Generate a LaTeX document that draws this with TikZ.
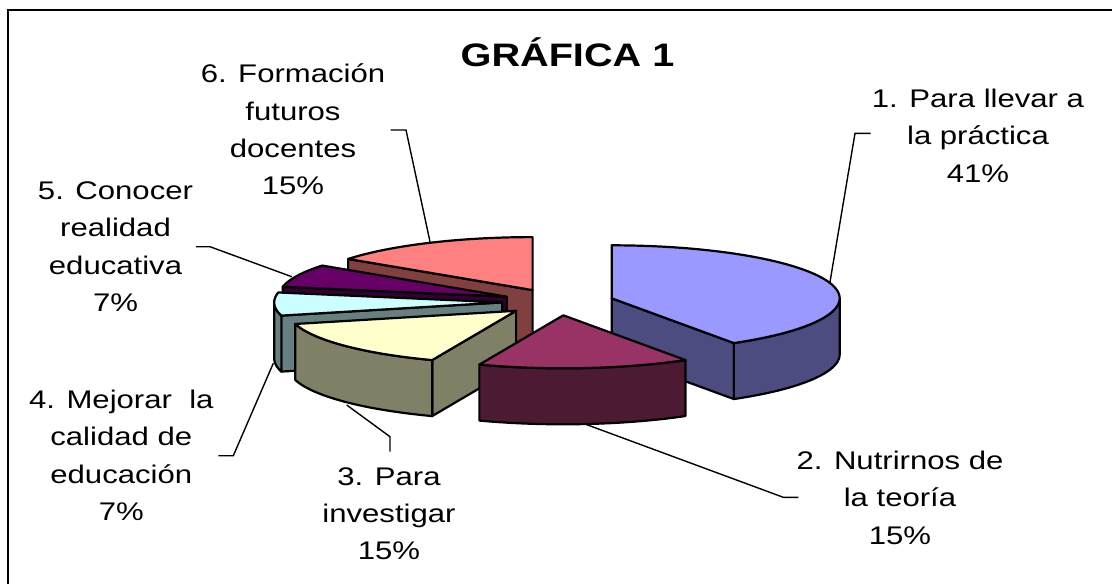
\documentclass[tikz,border=0pt]{standalone}
\usepackage{fontspec}
\newfontfamily\labf[FakeStretch=1.22]{Liberation Sans}
\definecolor{sAt}{HTML}{9999FF}\definecolor{sAs}{HTML}{4C4C80}
\definecolor{sBt}{HTML}{993366}\definecolor{sBs}{HTML}{4C1A33}
\definecolor{sCt}{HTML}{FFFFCC}\definecolor{sCs}{HTML}{808066}
\definecolor{sDt}{HTML}{CCFFFF}\definecolor{sDs}{HTML}{668080}
\definecolor{sEt}{HTML}{660066}\definecolor{sEs}{HTML}{330033}
\definecolor{sFt}{HTML}{FF8080}\definecolor{sFs}{HTML}{804040}
\def\RA{228}\def\RB{53}\def\RH{56}
\newcommand\pieTop[5]{%
  \filldraw[edge,fill=#5] (#1,#2) -- plot[domain=#3:#4,samples=60] ({#1+\RA*sin(\x)},{#2-\RB*cos(\x)}) -- cycle;}
\newcommand\pieSide[5]{%
  \filldraw[edge,fill=#5] plot[domain=#3:#4,samples=40] ({#1+\RA*sin(\x)},{#2-\RB*cos(\x)})
    -- plot[domain=#4:#3,samples=40] ({#1+\RA*sin(\x)},{#2-\RB*cos(\x)+\RH}) -- cycle;}
\newcommand\pieFace[4]{%
  \filldraw[edge,fill=#4] (#1,#2) -- ({#1+\RA*sin(#3)},{#2-\RB*cos(#3)}) -- ++(0,\RH) -- (#1,#2+\RH) -- cycle;}
\begin{document}
\begin{tikzpicture}[x=1pt,y=-1pt,
  edge/.style={draw=black,line width=2.2pt,line join=round},
  leader/.style={draw=black,line width=1.4pt},
  lab/.style={font=\labf\fontsize{25.5}{37.4}\selectfont,align=center,anchor=base,inner sep=0pt}]
\useasboundingbox (0,0) rectangle (1112,584);
\fill[white] (0,0) rectangle (1112,584);
\draw[line width=2.5pt] (8,584) -- (8,10) -- (1112,10);

% title
\node[anchor=base,inner sep=0pt,font=\labf\bfseries\fontsize{32.5}{38}\selectfont] (title) at (567.5,66) {GRÁFICA 1};

% labels (base anchor = baseline of the last line)
\node[lab] (lA) at (978,182.1) {1. Para llevar a\\la práctica\\41\%};
\node[lab] (lB) at (900,544.1) {2. Nutrirnos de\\la teoría\\15\%};
\node[lab] (lC) at (389,559.8) {3. Para\\investigar\\15\%};
\node[lab] (lD) at (121.3,520.5) {4. Mejorar\ \ la\\calidad de\\educación\\7\%};
\node[lab] (lE) at (115.5,311.5) {5. Conocer\\realidad\\educativa\\7\%};
\node[lab] (lF) at (293,194.9) {6. Formación\\futuros\\docentes\\15\%};

% leader lines
\coordinate (a1) at (870.7,133.3); \coordinate (a2) at (855,133.3); \coordinate (a3) at (830,282);
\coordinate (b1) at (798.3,497.3); \coordinate (b2) at (783.3,497.3); \coordinate (b3) at (585,424);
\coordinate (c1) at (390,451.7); \coordinate (c2) at (390,436.7); \coordinate (c3) at (346.7,405);
\coordinate (d1) at (218.3,455.7); \coordinate (d2) at (233.3,455.7); \coordinate (d3) at (273.3,363.3);
\coordinate (e1) at (196,246.7); \coordinate (e2) at (210,246.7); \coordinate (e3) at (291.7,276.7);
\coordinate (f1) at (390.7,130); \coordinate (f2) at (406,130); \coordinate (f3) at (430,241.7);
\draw[leader] (a1) -- (a2) -- (a3);
\draw[leader] (b1) -- (b2) -- (b3);
\draw[leader] (c1) -- (c2) -- (c3);
\draw[leader] (d1) -- (d2) -- (d3);
\draw[leader] (e1) -- (e2) -- (e3);
\draw[leader] (f1) -- (f2) -- (f3);

% slice 6
\pieFace{532.6}{290.1}{306}{sFs}
\pieTop{532.6}{290.1}{306}{360}{sFt}
% slice 5
\pieFace{506.7}{296.7}{280.8}{sEs}
\pieTop{506.7}{296.7}{280.8}{306}{sEt}
% slice 4
\pieFace{502.2}{302.4}{255.6}{sDs}
\pieSide{502.2}{302.4}{255.6}{270}{sDs}
\pieTop{502.2}{302.4}{255.6}{280.8}{sDt}
% slice 3
\pieFace{516.1}{310.8}{201.6}{sCs}
\pieSide{516.1}{310.8}{201.6}{255.6}{sCs}
\pieTop{516.1}{310.8}{201.6}{255.6}{sCt}
% slice 1
\pieFace{611.7}{298.3}{147.6}{sAs}
\pieSide{611.7}{298.3}{90}{147.6}{sAs}
\pieTop{611.7}{298.3}{0}{147.6}{sAt}
% slice 2
\pieSide{563.3}{315.3}{147.6}{201.6}{sBs}
\pieTop{563.3}{315.3}{147.6}{201.6}{sBt}
\end{tikzpicture}
\end{document}
